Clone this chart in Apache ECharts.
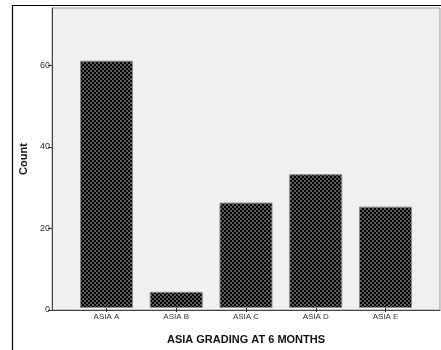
<!DOCTYPE html>
<html><head><meta charset="utf-8">
<script src="https://cdn.jsdelivr.net/npm/echarts@6/dist/echarts.min.js"></script>
<style>html,body{margin:0;padding:0;background:#fff}#c{width:441px;height:350px}</style>
</head><body><div id="c"></div>
<script>
const categories = ['ASIA A', 'ASIA B', 'ASIA C', 'ASIA D', 'ASIA E'];
const counts = [61, 4, 26, 33, 25];
const yTicks = [0, 20, 40, 60];
const xTitle = 'ASIA GRADING AT 6 MONTHS';
const yTitle = 'Count';

const pc = document.createElement('canvas');
pc.width = 4; pc.height = 4;
const g = pc.getContext('2d');
g.fillStyle = '#000'; g.fillRect(0,0,4,4);
g.fillStyle = '#5a5a5a'; g.fillRect(0,0,2,2); g.fillRect(2,2,2,2);

const chart = echarts.init(document.getElementById('c'));
const font = 'Liberation Sans, Arial, sans-serif';
chart.setOption({
  animation: false,
  grid: [
    {left: 52, right: 1, top: 8, bottom: 40, show: true, backgroundColor: '#f0f0f0', borderColor: '#9a9a9a', borderWidth: 1},
    {left: 71.6, right: 20.6, top: 8, bottom: 40}
  ],
  xAxis: [
    {gridIndex: 0, type: 'value', min: 0, max: 1, axisLabel: {show: false}, axisTick: {show: false}, splitLine: {show: false},
     axisLine: {show: true, lineStyle: {color: '#444', width: 1}}},
    {gridIndex: 1, type: 'category', data: categories, axisLine: {show: false},
     axisTick: {show: true, alignWithLabel: true, length: 4, lineStyle: {color: '#333'}},
     axisLabel: {fontSize: 8, color: '#333', fontFamily: font, margin: 5},
     name: xTitle, nameLocation: 'middle', nameGap: 26,
     nameTextStyle: {fontSize: 11, fontWeight: 'bold', color: '#111', fontFamily: font}}
  ],
  yAxis: [
    {gridIndex: 0, type: 'value', min: 0, max: 74,
     axisLine: {show: true, lineStyle: {color: '#444'}},
     axisTick: {show: true, length: 4, lineStyle: {color: '#333'}, customValues: yTicks},
     axisLabel: {fontSize: 9, color: '#333', fontFamily: font, margin: 2, customValues: yTicks},
     splitLine: {show: false},
     name: yTitle, nameLocation: 'middle', nameGap: 15,
     nameTextStyle: {fontSize: 11, fontWeight: 'bold', color: '#111', fontFamily: font}},
    {gridIndex: 1, type: 'value', min: 0, max: 74, show: false}
  ],
  series: [{
    type: 'bar', xAxisIndex: 1, yAxisIndex: 1, data: counts, barWidth: 53,
    itemStyle: {color: {image: pc, repeat: 'repeat'}, borderColor: '#8a8a8a', borderWidth: 1}
  }],
  graphic: [
    {type: 'line', shape: {x1: 12.5, y1: 5, x2: 12.5, y2: 350}, style: {stroke: '#000', lineWidth: 1.2}, z: 100},
    {type: 'line', shape: {x1: 12, y1: 5.5, x2: 441, y2: 5.5}, style: {stroke: '#000', lineWidth: 1.2}, z: 100}
  ]
});
</script></body></html>
